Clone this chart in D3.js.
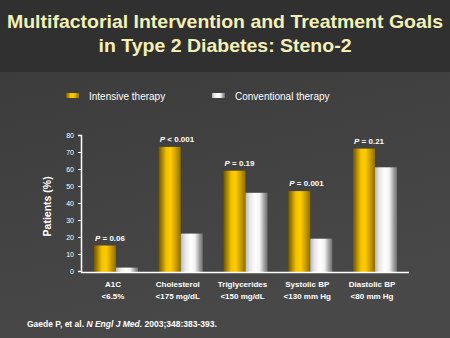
<!DOCTYPE html>
<html lang="en">
<head>
<meta charset="utf-8">
<script src="https://d3js.org/d3.v7.min.js"></script>
<style>
body { margin: 0; background: #333; }
svg { display: block; font-family: "Liberation Sans", Arial, sans-serif; }
.title { font-weight: bold; font-size: 19px; fill: #f3f0b8; }
.tick text { font-size: 7px; fill: #ffffff; }
.cat { font-weight: bold; font-size: 8px; fill: #ffffff; }
.plab { font-weight: bold; font-size: 8px; fill: #ffffff; }
.leg { font-size: 10px; fill: #ffffff; }
</style>
</head>
<body>
<div id="chart"></div>
<script>
// Steno-2 treatment goals, % of patients reaching each target
var goals = ["A1C", "Cholesterol", "Triglycerides", "Systolic BP", "Diastolic BP"];
var targets = ["<6.5%", "<175 mg/dL", "<150 mg/dL", "<130 mm Hg", "<80 mm Hg"];
var intensive = [15, 73, 59, 47, 72];
var conventional = [2, 22, 46, 19, 61];
var pSign = ["=", "<", "=", "=", "="];
var pValues = ["0.06", "0.001", "0.19", "0.001", "0.21"];
var series = ["Intensive therapy", "Conventional therapy"];
var yTicks = [0, 10, 20, 30, 40, 50, 60, 70, 80];

var W = 450, H = 338;

var svg = d3.select("#chart").append("svg")
    .attr("width", W)
    .attr("height", H);

var defs = svg.append("defs");

var bg = defs.append("linearGradient").attr("id", "bg")
    .attr("x1", 0).attr("y1", 0).attr("x2", 0.3).attr("y2", 1);
bg.append("stop").attr("offset", "0%").attr("stop-color", "#393939");
bg.append("stop").attr("offset", "100%").attr("stop-color", "#484848");

// cylinder-like shading for the two bar colours
var gold = defs.append("linearGradient").attr("id", "gold");
[["0%", "#6e5600"], ["15%", "#a88300"], ["35%", "#f2c200"], ["55%", "#ffcc00"],
 ["75%", "#d2a400"], ["100%", "#8c6e00"]].forEach(function(s) {
  gold.append("stop").attr("offset", s[0]).attr("stop-color", s[1]);
});
var silver = defs.append("linearGradient").attr("id", "silver");
[["0%", "#b8b8b8"], ["20%", "#e8e8e8"], ["45%", "#ffffff"], ["65%", "#f2f2f2"],
 ["85%", "#a0a0a0"], ["100%", "#707070"]].forEach(function(s) {
  silver.append("stop").attr("offset", s[0]).attr("stop-color", s[1]);
});

// backgrounds: darker title band, lighter chart area
svg.append("rect").attr("width", W).attr("height", H).attr("fill", "url(#bg)");
svg.append("rect").attr("width", W).attr("height", 72).attr("fill", "#303030");

svg.append("text").attr("class", "title")
    .attr("x", W / 2).attr("y", 28)
    .attr("text-anchor", "middle")
    .attr("textLength", 436)
    .attr("lengthAdjust", "spacingAndGlyphs")
    .text("Multifactorial Intervention and Treatment Goals");
svg.append("text").attr("class", "title")
    .attr("x", W / 2).attr("y", 52)
    .attr("text-anchor", "middle")
    .attr("textLength", 253)
    .attr("lengthAdjust", "spacingAndGlyphs")
    .text("in Type 2 Diabetes: Steno-2");

// legend
var legX = [66, 212];
var legFill = ["url(#gold)", "url(#silver)"];
series.forEach(function(s, i) {
  svg.append("rect")
      .attr("x", legX[i]).attr("y", 93)
      .attr("width", 13).attr("height", 5)
      .attr("fill", legFill[i]);
  svg.append("text").attr("class", "leg")
      .attr("x", legX[i] + 23).attr("y", 99.5)
      .text(s);
});

var x0 = d3.scaleBand()
    .domain(goals)
    .range([81, 410])
    .paddingInner(0.32)
    .paddingOuter(0.2);

var x1 = d3.scaleBand()
    .domain([0, 1])
    .range([0, x0.bandwidth()]);

var y = d3.scaleLinear()
    .domain([0, 80])
    .range([271, 135]);

// y axis
var yAxis = svg.append("g")
    .attr("transform", "translate(81,0)")
    .call(d3.axisLeft(y).tickValues(yTicks).tickSize(3).tickPadding(4));
yAxis.select(".domain").attr("stroke", "#ffffff").attr("stroke-width", 1.5);
yAxis.selectAll(".tick line").attr("stroke", "#ffffff");

svg.append("text")
    .attr("transform", "translate(51," + y(38) + ") rotate(-90)")
    .attr("text-anchor", "middle")
    .style("font-weight", "bold")
    .style("font-size", "10.5px")
    .attr("fill", "#ffffff")
    .text("Patients (%)");

// bars
var groups = svg.selectAll(".grp")
    .data(goals)
  .enter().append("g")
    .attr("class", "grp")
    .attr("transform", function(d) { return "translate(" + x0(d) + ",0)"; });

groups.selectAll("rect")
    .data(function(d, i) { return [intensive[i], conventional[i]]; })
  .enter().append("rect")
    .attr("x", function(d, j) { return x1(j); })
    .attr("y", function(d) { return y(d); })
    .attr("width", x1.bandwidth())
    .attr("height", function(d) { return 272.5 - y(d); })
    .attr("fill", function(d, j) { return legFill[j]; });

var plab = groups.append("text").attr("class", "plab")
    .attr("x", 1)
    .attr("y", function(d, i) { return y(intensive[i]) - 5; });
plab.append("tspan").style("font-style", "italic").text("P");
plab.append("tspan").text(function(d, i) { return " " + pSign[i] + " " + pValues[i]; });

// x axis line
svg.append("line")
    .attr("x1", 81).attr("x2", 409)
    .attr("y1", 272.5).attr("y2", 272.5)
    .attr("stroke", "#ffffff").attr("stroke-width", 1.5);

// category labels
groups.append("text").attr("class", "cat")
    .attr("x", x0.bandwidth() / 2 - 3)
    .attr("y", 287)
    .attr("text-anchor", "middle")
    .text(function(d) { return d; });
groups.append("text").attr("class", "cat")
    .attr("x", x0.bandwidth() / 2 - 3)
    .attr("y", 299)
    .attr("text-anchor", "middle")
    .text(function(d, i) { return targets[i]; });

// citation
var cite = svg.append("text")
    .attr("x", 27).attr("y", 327)
    .attr("fill", "#ffffff")
    .style("font-weight", "bold")
    .style("font-size", "8.5px");
cite.append("tspan").text("Gaede P, et al. ");
cite.append("tspan").style("font-style", "italic").text("N Engl J Med.");
cite.append("tspan").text(" 2003;348:383-393.");
</script>
</body>
</html>
